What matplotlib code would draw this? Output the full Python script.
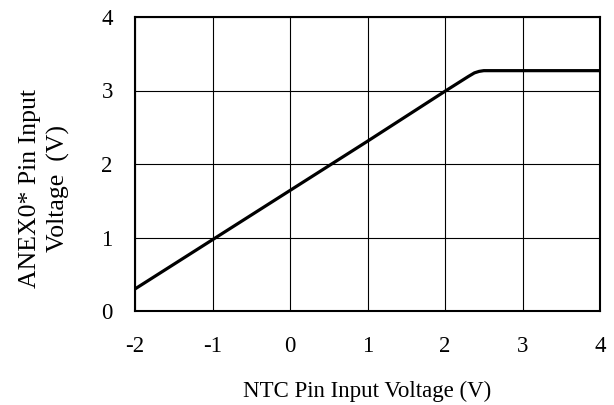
import matplotlib
matplotlib.use("Agg")
from matplotlib import pyplot as plt

# Curva de transferencia NTC -> ANEX0
v_ntc = [-2, -1, 0, 1, 2, 2.3, 2.38, 2.44, 2.5, 2.6, 4]
v_anex = [0.30, 0.97, 1.64, 2.31, 2.99, 3.19, 3.24, 3.26, 3.27, 3.27, 3.27]

x_ticks = [-2, -1, 0, 1, 2, 3, 4]
y_ticks = [0, 1, 2, 3, 4]

plt.rcParams["font.family"] = ["Liberation Serif", "DejaVu Serif"]
plt.rcParams["axes.unicode_minus"] = False

fig = plt.figure(figsize=(6.14, 4.05), dpi=100)
ax = fig.add_axes([135 / 614, 1 - 311 / 405, 465 / 614, 294 / 405])

ax.plot(v_ntc, v_anex, color="black", linewidth=2.3, solid_joinstyle="round")

ax.set_xlim(-2, 4)
ax.set_ylim(0, 4)
ax.set_xticks(x_ticks)
ax.set_yticks(y_ticks)
ax.grid(True, color="black", linewidth=0.8)
ax.tick_params(length=0, labelsize=16.5)
ax.tick_params(axis="x", pad=18)
ax.tick_params(axis="y", pad=16)
for s in ax.spines.values():
    s.set_linewidth(1.5)

ax.set_xlabel("NTC Pin Input Voltage (V)", fontsize=16.5, labelpad=17)
ax.set_ylabel("ANEX0* Pin Input\nVoltage  (V)", fontsize=18.5, linespacing=1.35)
ax.yaxis.set_label_coords(-0.14, 0.418)

fig.savefig("out.png", dpi=100)
